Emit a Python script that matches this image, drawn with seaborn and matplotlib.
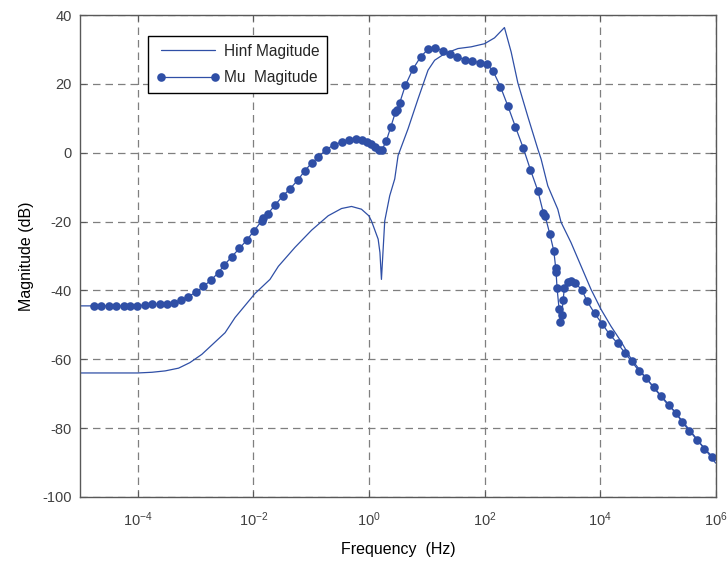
import numpy as np
import pandas as pd
import matplotlib
matplotlib.use("Agg")
import matplotlib.pyplot as plt
import seaborn as sns

# ---- data (frequency given as log10(Hz), magnitude in dB) ----
mu_logf = [-5.0, -4.763, -4.637, -4.504, -4.378, -4.245, -4.131, -4.016, -3.883, -3.756,
           -3.623, -3.497, -3.382, -3.256, -3.135, -2.997, -2.864, -2.738, -2.604, -2.508,
           -2.375, -2.242, -2.116, -1.990, -1.857, -1.827, -1.753, -1.627, -1.494, -1.368,
           -1.235, -1.109, -0.993, -0.877, -0.746, -0.608, -0.475, -0.349, -0.228, -0.112,
           -0.026, 0.043, 0.100, 0.169, 0.228, 0.302, 0.377, 0.458, 0.487, 0.532,
           0.630, 0.763, 0.895, 1.022, 1.149, 1.282, 1.396, 1.523, 1.655, 1.782,
           1.914, 2.047, 2.150, 2.276, 2.404, 2.536, 2.670, 2.794, 2.922, 3.019,
           3.048, 3.130, 3.199, 3.233, 3.238, 3.256, 3.290, 3.313, 3.337, 3.360,
           3.382, 3.440, 3.497, 3.566, 3.685, 3.774, 3.906, 4.035, 4.165, 4.304,
           4.430, 4.546, 4.667, 4.798, 4.926, 5.052, 5.185, 5.311, 5.420, 5.547,
           5.674, 5.807, 5.945, 6.0]
mu_db = [-44.5, -44.5, -44.5, -44.5, -44.5, -44.5, -44.5, -44.4, -44.3, -44.0,
         -44.0, -43.9, -43.6, -42.9, -41.8, -40.6, -38.8, -37.1, -34.8, -32.7,
         -30.2, -27.8, -25.4, -22.7, -19.8, -19.1, -17.8, -15.2, -12.6, -10.5,
         -8.0, -5.2, -3.0, -1.3, 0.85, 2.3, 3.1, 3.85, 4.05, 3.76,
         3.27, 2.6, 1.6, 0.93, 0.93, 3.56, 7.46, 11.8, 12.3, 14.5,
         19.6, 24.4, 27.9, 30.1, 30.6, 29.6, 28.8, 27.9, 27.1, 26.7,
         26.2, 25.7, 23.7, 19.2, 13.6, 7.5, 1.4, -4.9, -11.0, -17.5,
         -18.3, -23.6, -28.5, -33.6, -34.6, -39.4, -45.3, -49.2, -47.2, -42.8,
         -39.4, -37.7, -37.3, -37.9, -39.8, -43.1, -46.7, -49.7, -52.8, -55.4,
         -58.2, -60.6, -63.3, -65.5, -68.2, -70.8, -73.4, -75.6, -78.3, -80.8,
         -83.4, -86.0, -88.3, -89.3]

hinf_logf = [-5.0, -4.0, -3.756, -3.527, -3.295, -3.1, -2.893, -2.490, -2.318, -1.972,
             -1.713, -1.568, -1.281, -0.993, -0.705, -0.475, -0.302, -0.130, -0.003, 0.043,
             0.159, 0.19, 0.216, 0.273, 0.359, 0.446, 0.504, 0.677, 0.850, 1.022,
             1.137, 1.309, 1.541, 1.770, 2.000, 2.173, 2.345, 2.461, 2.577, 2.750,
             2.922, 2.979, 3.095, 3.268, 3.325, 3.497, 3.670, 3.843, 4.016, 4.188,
             4.361, 4.534, 4.80, 5.05, 5.30, 5.55, 5.80, 6.00]
hinf_db = [-64.0, -64.0, -63.8, -63.4, -62.6, -61.0, -58.6, -52.3, -47.9, -40.9,
           -36.8, -33.0, -27.5, -22.5, -18.3, -16.2, -15.6, -16.4, -18.3, -19.8,
           -25.1, -29.0, -36.8, -19.8, -12.5, -7.6, -0.8, 7.0, 15.7, 24.0,
           26.9, 28.8, 30.3, 30.8, 31.7, 33.4, 36.4, 29.3, 20.3, 10.5,
           1.1, -1.8, -9.6, -16.4, -20.2, -26.1, -32.9, -39.7, -45.5, -50.4,
           -54.8, -59.8, -65.6, -70.5, -75.4, -80.6, -85.8, -90.2]

x_ticks = [1e-4, 1e-2, 1e0, 1e2, 1e4, 1e6]
y_ticks = [-100, -80, -60, -40, -20, 0, 20, 40]
series_names = ["Hinf Magitude", "Mu  Magitude"]

# ---- build frames ----
hinf_df = pd.DataFrame({"freq": 10.0 ** np.array(hinf_logf), "mag": hinf_db})
mu_df = pd.DataFrame({"freq": 10.0 ** np.array(mu_logf), "mag": mu_db})

sns.set_style("white")
plt.rcParams["font.family"] = ["Liberation Sans", "DejaVu Sans"]
plt.rcParams["mathtext.fontset"] = "custom"
plt.rcParams["mathtext.rm"] = "Liberation Sans"
plt.rcParams["mathtext.it"] = "Liberation Sans:italic"
plt.rcParams["axes.unicode_minus"] = False

color = "#2F4FA6"
fig, ax = plt.subplots(figsize=(7.28, 5.62), dpi=100)
fig.subplots_adjust(left=0.110, right=0.983, top=0.973, bottom=0.116)

sns.lineplot(data=hinf_df, x="freq", y="mag", ax=ax, color=color, lw=0.9,
             estimator=None, sort=False, label=series_names[0])
sns.lineplot(data=mu_df, x="freq", y="mag", ax=ax, color=color, lw=0.9,
             marker="o", markersize=6.2, markeredgewidth=0, markevery=slice(1, -1),
             estimator=None, sort=False, label=series_names[1])

ax.set_xscale("log")
ax.set_xlim(1e-5, 1e6)
ax.set_ylim(-100, 40)
ax.set_xticks(x_ticks)
ax.set_yticks(y_ticks)
ax.minorticks_off()
ax.xaxis.set_minor_locator(matplotlib.ticker.NullLocator())

ax.grid(True, which="major", color="#7f7f7f", linestyle=(0, (6, 4)), linewidth=0.9)
ax.tick_params(axis="both", which="major", direction="in", length=4, width=0.8,
               colors="#595959", labelcolor="#404040", labelsize=10.5,
               top=True, right=True, bottom=True, left=True)
ax.tick_params(axis="x", pad=10)
ax.tick_params(axis="y", pad=6)
for sp in ax.spines.values():
    sp.set_visible(True)
    sp.set_color("#595959")
    sp.set_linewidth(1.0)

ax.set_xlabel("Frequency  (Hz)", fontsize=11.5, color="black", labelpad=9)
ax.set_ylabel("Magnitude (dB)", fontsize=11.5, color="black", labelpad=6)

leg = ax.legend(loc="upper left", bbox_to_anchor=(0.107, 0.957), borderaxespad=0,
                frameon=True, fancybox=False, shadow=False, numpoints=2,
                fontsize=11.2, handlelength=4.1, handletextpad=0.25,
                borderpad=0.5, labelspacing=0.75)
leg.get_frame().set_edgecolor("black")
leg.get_frame().set_linewidth(1.0)
leg.get_frame().set_alpha(1.0)
for h in leg.legend_handles:
    try:
        h.set_markevery(None)
    except Exception:
        pass

fig.savefig("out.png", dpi=100)
